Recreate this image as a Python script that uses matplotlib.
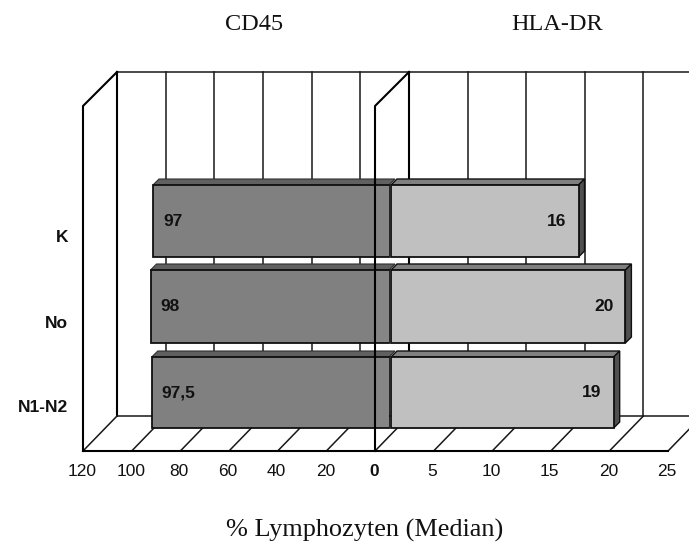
import matplotlib
matplotlib.use('Agg')
import matplotlib.pyplot as plt
from matplotlib.patches import Polygon

categories = ['K', 'No', 'N1-N2']
cd45 = [97, 98, 97.5]
hla_dr = [16, 20, 19]
cd45_labels = ['97', '98', '97,5']
hla_labels = ['16', '20', '19']
left_ticks = [120, 100, 80, 60, 40, 20, 0]
right_ticks = [5, 10, 15, 20, 25]

# pixel layout of the fake 3D box
X0 = 375
FLOOR = 451
BACK_FLOOR = 416
DEPTH = 34
TOP = 106
BACK_TOP = 72
LEFT_SCALE = 292 / 120
RIGHT_SCALE = 293 / 25
BAR_TOPS = [185, 270, 357]
BAR_BOTTOMS = [257, 343, 428]
CAT_Y = [237, 323, 408]
BAR_LEFT0 = 389
BAR_RIGHT0 = 391
CAP = 6
SANS = 'Liberation Sans'
SERIF = 'Liberation Serif'
TEXT = '#111111'


def left_x(v):
	return X0 - v * LEFT_SCALE


def right_x(v):
	return X0 + v * RIGHT_SCALE


fig = plt.figure(figsize=(6.89, 5.42), dpi=100)
ax = fig.add_axes([0, 0, 1, 1])
ax.set_xlim(0, 689)
ax.set_ylim(542, 0)
ax.axis('off')

heavy = dict(color='black', lw=1.5, solid_capstyle='projecting', zorder=1)
grid = dict(color='#181818', lw=1.1, zorder=1)

# back wall, gridlines
ax.plot([left_x(120) + DEPTH, 689], [BACK_TOP, BACK_TOP], **grid)
for v in left_ticks:
	x = left_x(v) + DEPTH
	ax.plot([x, x], [BACK_TOP, BACK_FLOOR], **(heavy if v in (120, 0) else grid))
for v in right_ticks[:-1]:
	x = right_x(v) + DEPTH
	ax.plot([x, x], [BACK_TOP, BACK_FLOOR], **grid)

# floor
ax.plot([left_x(120) + DEPTH, 689], [BACK_FLOOR, BACK_FLOOR], **grid)
for v in left_ticks:
	x = left_x(v)
	ax.plot([x, x + DEPTH], [FLOOR, BACK_FLOOR], **grid)
for v in right_ticks:
	x = right_x(v)
	ax.plot([x, x + DEPTH], [FLOOR, BACK_FLOOR], **grid)
ax.plot([left_x(120), right_x(25)], [FLOOR, FLOOR], **heavy)

# front left wall
x = left_x(120)
ax.plot([x, x, x + DEPTH], [FLOOR, TOP, BACK_TOP], **heavy)

# bars
for i in range(len(categories)):
	y0, y1 = BAR_TOPS[i], BAR_BOTTOMS[i]
	h = y1 - y0
	xl = BAR_LEFT0 - cd45[i] * LEFT_SCALE
	ax.add_patch(Polygon([(xl, y0), (xl + CAP, y0 - CAP), (BAR_LEFT0 + CAP, y0 - CAP), (BAR_LEFT0, y0)],
		facecolor='#606060', edgecolor='#303030', lw=0.8, zorder=2))
	ax.barh(y0 + h / 2, BAR_LEFT0 - xl, height=h, left=xl, color='#808080', edgecolor='#101010', lw=1.3, zorder=3)
	ax.barh(y0 + h / 2, BAR_LEFT0 - X0, height=h - 2, left=X0, color='#868686', lw=0, zorder=3)

	xr = BAR_RIGHT0 + hla_dr[i] * RIGHT_SCALE
	ax.add_patch(Polygon([(BAR_RIGHT0, y0), (BAR_RIGHT0 + CAP, y0 - CAP), (xr + CAP, y0 - CAP), (xr, y0)],
		facecolor='#808080', edgecolor='#101010', lw=1.0, zorder=2))
	ax.add_patch(Polygon([(xr, y0), (xr + CAP, y0 - CAP), (xr + CAP, y1 - CAP), (xr, y1)],
		facecolor='#505050', edgecolor='#101010', lw=1.0, zorder=2))
	ax.barh(y0 + h / 2, xr - BAR_RIGHT0, height=h, left=BAR_RIGHT0, color='#c0c0c0', edgecolor='#101010', lw=1.3, zorder=3)

	yc = y0 + h / 2
	ax.text(xl + 10, yc, cd45_labels[i], ha='left', va='center', family=SANS, fontweight='bold', fontsize=12.5, color=TEXT, zorder=5)
	ax.text(xr - 12, yc, hla_labels[i], ha='right', va='center', family=SANS, fontweight='bold', fontsize=12.5, color=TEXT, zorder=5)
	ax.text(68, CAT_Y[i], categories[i], ha='right', va='center', family=SANS, fontweight='bold', fontsize=12.5, color=TEXT)

# middle wall runs in front of the bars
ax.plot([X0, X0, X0 + DEPTH], [FLOOR, TOP, BACK_TOP], color='black', lw=1.5, zorder=4)

# tick labels
for v in left_ticks:
	ax.text(left_x(v) - 1, 471, str(v), ha='center', va='center', family=SANS,
		fontsize=12.5, fontweight='bold' if v == 0 else 'normal', color=TEXT)
for v in right_ticks:
	ax.text(right_x(v) - 1, 471, str(v), ha='center', va='center', family=SANS, fontsize=12.5, color=TEXT)

ax.text(254, 25, 'CD45', ha='center', va='center', family=SERIF, fontsize=17.5, color=TEXT)
ax.text(557, 25, 'HLA-DR', ha='center', va='center', family=SERIF, fontsize=17.5, color=TEXT)
ax.text(364.5, 530, '% Lymphozyten (Median)', ha='center', va='center', family=SERIF, fontsize=18.9, color=TEXT)

fig.savefig('out.png', dpi=100)
